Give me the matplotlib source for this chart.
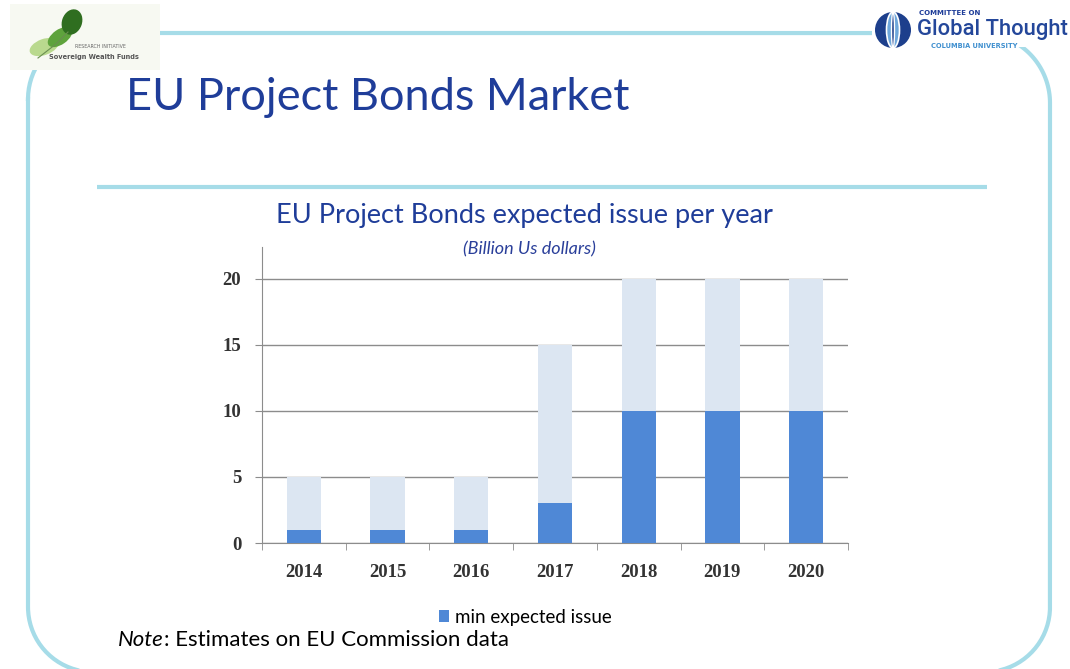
import numpy as np
import matplotlib.pyplot as plt
from matplotlib.patches import Rectangle, Ellipse, Circle

years = ["2014", "2015", "2016", "2017", "2018", "2019", "2020"]
min_issue = [1, 1, 1, 3, 10, 10, 10]
max_issue = [5, 5, 5, 15, 20, 20, 20]
y_ticks = [0, 5, 10, 15, 20]

DARK_BLUE = "#1f3d99"
FRAME = "#a6dce8"

fig = plt.figure(figsize=(10.7, 6.69), dpi=100)

# background layer in pixel coordinates (origin top-left)
bg = fig.add_axes([0, 0, 1, 1], zorder=0)
bg.set_xlim(0, 1070)
bg.set_ylim(669, 0)
bg.axis("off")


def corner(cx, cy, r, a0, a1):
    t = np.radians(np.linspace(a0, a1, 40))
    return cx + r * np.cos(t), cy + r * np.sin(t)


# rounded slide frame: left, top, right, bottom edges
L, T, R, B = 28, 33, 1050, 672
parts = [
    corner(L + 66, T + 66, 66, 180, 270),
    corner(R - 70, T + 70, 70, 270, 360),
    corner(R - 65, B - 65, 65, 0, 90),
    corner(L + 65, B - 65, 65, 90, 180),
]
fx = np.concatenate([p[0] for p in parts] + [parts[0][0][:1]])
fy = np.concatenate([p[1] for p in parts] + [parts[0][1][:1]])
bg.plot(fx, fy, color=FRAME, lw=3, zorder=1)
bg.plot([97, 987], [187, 187], color=FRAME, lw=3, solid_capstyle="butt", zorder=1)

# left logo
bg.add_patch(Rectangle((10, 4), 150, 66, fc="#f7f9f2", ec="none", zorder=2))
bg.add_patch(Ellipse((44, 47), 30, 16, angle=-20, fc="#b9d98e", ec="none", zorder=3))
bg.add_patch(Ellipse((60, 37), 28, 15, angle=-35, fc="#5ea33c", ec="none", zorder=3))
bg.add_patch(Ellipse((72, 22), 20, 26, angle=20, fc="#2f6e20", ec="none", zorder=3))
bg.plot([38, 56, 68], [58, 44, 32], color="#6a8f50", lw=0.8, zorder=4)
bg.text(100, 47, "RESEARCH INITIATIVE", fontsize=3.4, color="#666666",
        ha="center", va="center", zorder=4)
bg.text(94, 57, "Sovereign Wealth Funds", fontsize=4.8, color="#555555",
        ha="center", va="center", fontweight="bold", zorder=4)

# right logo
bg.add_patch(Rectangle((872, 0), 198, 47, fc="white", ec="none", zorder=2))
bg.add_patch(Circle((893, 30), 18, fc="#1d3f8c", ec="none", zorder=3))
bg.add_patch(Ellipse((893, 30), 13, 36, fc="#6fa8dc", ec="white", lw=1.2, zorder=4))
bg.add_patch(Ellipse((893, 30), 3, 36, fc="#1d3f8c", ec="white", lw=1.0, zorder=5))
bg.text(919, 13, "COMMITTEE ON", fontsize=5, color=DARK_BLUE,
        fontweight="bold", ha="left", va="center", zorder=4)
bg.text(917, 30, "Global Thought", fontsize=15.8, color="#24479a",
        family="Roboto", fontweight="medium", ha="left", va="center", zorder=4)
bg.text(931, 46, "COLUMBIA UNIVERSITY", fontsize=4.8, color="#3f8fcf",
        fontweight="bold", ha="left", va="center", zorder=4)

# slide titles
bg.text(126, 97, "EU Project Bonds Market", fontsize=32.5, color=DARK_BLUE,
        family="Lato", ha="left", va="center")
bg.text(524, 215, "EU Project Bonds expected issue per year", fontsize=19.5,
        color=DARK_BLUE, family="Lato", ha="center", va="center")
bg.text(529, 249, "(Billion Us dollars)", fontsize=13, color="#2a3f9a",
        family="Lato", style="italic", ha="center", va="center")
note = bg.text(118, 640, "Note", fontsize=16, family="Lato", style="italic",
               ha="left", va="center")
bg.annotate(": Estimates on EU Commission data", xy=(1, 0.5), xycoords=note,
            fontsize=16, family="Lato", ha="left", va="center")

# bar chart
ax = fig.add_axes([262 / 1070, 1 - 543 / 669, 586 / 1070, 296 / 669], zorder=1)
ax.set_facecolor("none")
x = range(len(years))
upper = [t - m for t, m in zip(max_issue, min_issue)]
b1 = ax.bar(x, min_issue, width=0.41, color="#4f88d6", zorder=3)
ax.bar(x, upper, bottom=min_issue, width=0.41, color="#dce6f2", zorder=3)

tick_font = {"family": "Liberation Serif", "size": 13.5, "weight": "bold"}
ax.set_xlim(-0.5, len(years) - 0.5)
ax.set_ylim(0, 22.4)
ax.set_yticks(y_ticks)
ax.set_yticklabels([str(v) for v in y_ticks], fontdict=tick_font, color="#333333")
ax.yaxis.grid(True, color="#8c8c8c", lw=1, zorder=0)
ax.set_xticks(list(x))
ax.set_xticklabels(years, fontdict=tick_font, color="#333333")
ax.set_xticks([i - 0.5 for i in range(len(years) + 1)], minor=True)
ax.tick_params(axis="x", which="major", length=0, pad=15)
ax.tick_params(axis="x", which="minor", length=5, color="#8c8c8c", direction="out")
ax.tick_params(axis="y", length=5, color="#8c8c8c", pad=10)
for side in ["top", "right"]:
    ax.spines[side].set_visible(False)
for side in ["left", "bottom"]:
    ax.spines[side].set_color("#8c8c8c")

ax.legend([b1], ["min expected issue"], loc="center",
          bbox_to_anchor=(525 / 1070, 1 - 617 / 669),
          bbox_transform=fig.transFigure, frameon=False,
          handlelength=0.55, handleheight=0.55, handletextpad=0.3,
          prop={"family": "Lato", "size": 13.5})

fig.savefig("out.png", dpi=100)
